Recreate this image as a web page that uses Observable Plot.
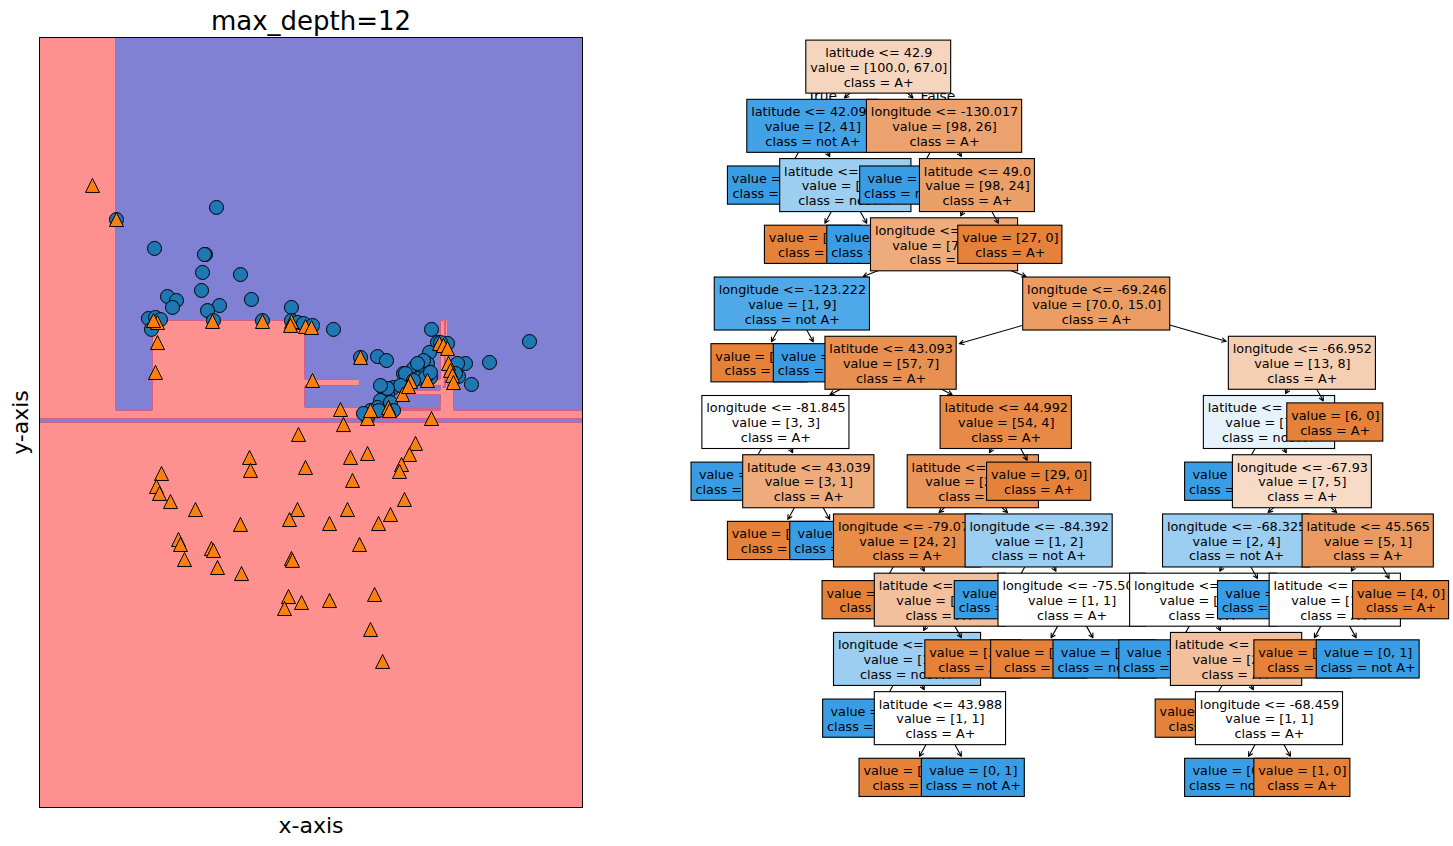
<!DOCTYPE html>
<html><head><meta charset="utf-8">
<script src="https://cdn.jsdelivr.net/npm/d3@7"></script>
<script src="https://cdn.jsdelivr.net/npm/@observablehq/plot@0.6"></script>
<style>
html,body{margin:0;padding:0;background:#fff;}
#fig{position:relative;width:1453px;height:846px;overflow:hidden;background:#fff;}
#left{position:absolute;left:0;top:0;}
#right{position:absolute;left:600px;top:0;}
</style></head>
<body><div id="fig"><div id="left"></div><div id="right"></div></div>
<script>
// ---------------- data ----------------
const title = "max_depth=12";
const xLabel = "x-axis", yLabel = "y-axis";
const classNames = ["A+", "not A+"];
const xDomain = [-144.29, -42.74];   // longitude extent of the decision plot
const yDomain = [16, 68.2];          // latitude extent

// class A+ (circles): [longitude, latitude]
const circlePoints = [[-129.90,55.86],[-111.19,56.68],[-122.78,53.90],[-113.25,53.49],[-113.44,53.49],[-113.80,52.27],[-106.70,52.13],[-113.99,51.05],[-120.35,50.64],[-118.67,50.37],[-119.42,49.90],[-104.65,50.44],[-110.63,50.03],[-112.87,49.69],[-97.17,49.90],[-123.91,49.15],[-122.60,49.22],[-121.66,49.08],[-123.35,48.41],[-111.75,49.01],[-102.59,49.01],[-97.17,49.01],[-94.54,48.68],[-93.42,48.61],[-96.04,48.88],[-89.31,48.41],[-70.98,48.41],[-52.65,47.59],[-69.86,47.52],[-67.99,47.46],[-71.35,46.85],[-72.10,46.17],[-84.25,46.51],[-81.07,46.57],[-79.39,46.30],[-60.13,46.17],[-64.62,46.10],[-66.49,45.96],[-66.11,46.10],[-65.93,45.22],[-63.50,44.68],[-76.22,45.42],[-74.35,45.76],[-72.66,45.63],[-71.73,46.10],[-73.59,45.08],[-71.17,45.15],[-78.08,44.47],[-79.95,44.41],[-79.21,44.07],[-80.52,43.59],[-81.07,43.12],[-82.38,42.91],[-82.94,42.44],[-72.47,46.30],[-73.59,46.10],[-66.49,45.42],[-75.84,45.42],[-72.10,45.15],[-74.35,44.95],[-76.77,44.61],[-79.21,44.41],[-80.52,44.61],[-78.65,43.46],[-78.08,42.91],[-83.70,42.71],[-80.88,42.91],[-94.92,48.81],[-93.23,48.68],[-71.17,45.49],[-69.29,47.52]];

// class not A+ (triangles): [longitude, latitude]
const trianglePoints = [[-134.38,58.17],[-129.90,55.86],[-122.22,48.88],[-122.97,49.01],[-111.94,48.95],[-102.59,48.95],[-97.17,48.95],[-97.34,48.68],[-94.54,48.61],[-93.42,48.54],[-122.22,47.52],[-122.60,45.49],[-93.23,44.95],[-84.25,46.51],[-69.48,47.46],[-68.74,47.32],[-67.99,47.12],[-67.80,46.10],[-67.42,45.63],[-67.05,45.29],[-66.87,44.81],[-74.90,44.88],[-71.73,44.95],[-76.40,44.00],[-75.28,44.54],[-79.02,43.12],[-82.94,42.37],[-82.38,42.91],[-88.00,42.98],[-70.98,42.37],[-87.44,41.96],[-95.85,41.29],[-73.97,40.68],[-75.09,39.93],[-76.59,39.25],[-76.96,38.78],[-105.01,39.73],[-104.83,38.85],[-94.54,39.05],[-86.13,39.73],[-82.94,40.00],[-85.75,38.17],[-121.47,38.64],[-122.41,37.76],[-121.85,37.29],[-119.79,36.74],[-115.12,36.20],[-106.70,35.19],[-96.04,36.20],[-97.53,35.52],[-90.05,35.25],[-86.69,36.20],[-80.88,35.25],[-78.65,35.86],[-76.03,36.88],[-84.44,33.83],[-118.29,34.17],[-117.92,33.83],[-117.17,32.81],[-112.13,33.56],[-111.75,33.42],[-111.00,32.27],[-106.51,31.86],[-97.17,32.88],[-96.98,32.75],[-97.72,30.30],[-98.47,29.49],[-95.29,29.90],[-90.05,30.03],[-81.63,30.44],[-82.38,28.07],[-80.13,25.90],[-78.83,42.91]];

// decision tree, nodes in pre-order (left child before right child)
const nodeParent = [-1,0,1,1,3,3,0,6,6,8,9,10,10,9,13,14,15,15,17,17,14,20,21,22,22,24,25,25,27,27,24,21,31,31,33,33,20,13,37,38,38,40,41,42,42,44,44,46,46,41,40,50,51,51,50,37,8];
const nodeFeature = ["latitude","latitude",null,"latitude",null,null,"longitude",null,"latitude","longitude","longitude",null,null,"longitude","latitude","longitude",null,"latitude",null,null,"latitude","latitude","longitude",null,"latitude","longitude",null,"latitude",null,null,null,"longitude",null,"longitude",null,null,null,"longitude","latitude",null,"longitude","longitude","longitude",null,"latitude",null,"longitude",null,null,null,"latitude","latitude",null,null,null,null,null];
const nodeThreshold = ["42.9","42.096",null,"42.358",null,null,"-130.017",null,"49.0","-94.772","-123.222",null,null,"-69.246","43.093","-81.845",null,"43.039",null,null,"44.992","44.595","-79.073",null,"44.252","-78.176",null,"43.988",null,null,null,"-84.392",null,"-75.505",null,null,null,"-66.952","44.458",null,"-67.93","-68.325","-68.896",null,"44.551",null,"-68.459",null,null,null,"45.565","45.434",null,null,null,null,null];
const nodeValue = ["[100.0, 67.0]","[2, 41]","[0, 37]","[2, 4]","[2, 0]","[0, 4]","[98, 26]","[0, 2]","[98, 24]","[71, 24]","[1, 9]","[1, 0]","[0, 9]","[70.0, 15.0]","[57, 7]","[3, 3]","[0, 2]","[3, 1]","[3, 0]","[0, 1]","[54, 4]","[25, 4]","[24, 2]","[20, 0]","[4, 2]","[1, 2]","[0, 1]","[1, 1]","[1, 0]","[0, 1]","[3, 0]","[1, 2]","[0, 1]","[1, 1]","[1, 0]","[0, 1]","[29, 0]","[13, 8]","[7, 8]","[0, 3]","[7, 5]","[2, 4]","[2, 2]","[0, 1]","[2, 1]","[1, 0]","[1, 1]","[0, 1]","[1, 0]","[0, 2]","[5, 1]","[1, 1]","[1, 0]","[0, 1]","[4, 0]","[6, 0]","[27, 0]"];

// ---------------- tree model ----------------
const nodes = nodeParent.map((p, i) => ({
  id: i, parent: p, feature: nodeFeature[i], threshold: nodeThreshold[i],
  valueText: nodeValue[i], value: JSON.parse(nodeValue[i]), kids: []
}));
nodes.forEach(n => { if (n.parent >= 0) nodes[n.parent].kids.push(n); });
nodes.forEach(n => { n.cls = n.value[0] >= n.value[1] ? 0 : 1; });

function predict(lon, lat) {
  let n = nodes[0];
  while (n.kids.length) {
    const v = n.feature === "latitude" ? lat : lon;
    n = v <= +n.threshold ? n.kids[0] : n.kids[1];
  }
  return n.cls;
}

// ---------------- left: decision boundary ----------------
const triUp = {
  draw(ctx, size) {
    const a = Math.sqrt(size / Math.PI);
    ctx.moveTo(0, -a); ctx.lineTo(a, a); ctx.lineTo(-a, a); ctx.closePath();
  }
};
const ext = {x1: xDomain[0], x2: xDomain[1], y1: yDomain[0], y2: yDomain[1]};
const leftPlot = Plot.plot({
  width: 600, height: 846,
  marginLeft: 39, marginRight: 18, marginTop: 37, marginBottom: 39,
  x: {domain: xDomain, axis: null},
  y: {domain: yDomain, axis: null},
  color: {type: "ordinal", domain: [0, 1], range: ["#8080d5", "#ff9090"]},
  style: {fontFamily: "DejaVu Sans", color: "black", background: "white", overflow: "visible"},
  marks: [
    Plot.raster({fill: (x, y) => predict(x, y), ...ext, pixelSize: 1, imageRendering: "pixelated"}),
    Plot.contour({value: (x, y) => predict(x, y), ...ext, pixelSize: 1, thresholds: [0.5],
      fill: "none", stroke: "#d45f84", strokeWidth: 1}),
    Plot.dot(circlePoints, {x: d => d[0], y: d => d[1], r: 7, fill: "#1f77b4", stroke: "black", strokeWidth: 1}),
    Plot.dot(trianglePoints, {x: d => d[0], y: d => d[1], r: 7, symbol: triUp, fill: "#ff7f0e", stroke: "black", strokeWidth: 1}),
    Plot.frame({stroke: "black", strokeWidth: 1}),
    Plot.text([title], {text: d => d, frameAnchor: "top", lineAnchor: "bottom", dy: -8, fontSize: 26, fill: "black"}),
    Plot.text([xLabel], {text: d => d, frameAnchor: "bottom", lineAnchor: "middle", textAnchor: "middle", dy: 18, fontSize: 22, fill: "black"}),
    Plot.text([yLabel], {text: d => d, frameAnchor: "left", lineAnchor: "middle", textAnchor: "middle", dx: -19, rotate: -90, fontSize: 22, fill: "black"})
  ]
});
document.getElementById("left").append(leftPlot);

// ---------------- right: tree diagram ----------------
const FS = 12.8, PAD = 3.9, LINE = 14.8;
const cv = document.createElement("canvas").getContext("2d");
cv.font = `${FS}px "DejaVu Sans"`;

nodes.forEach(n => {
  const lines = [];
  if (n.kids.length) lines.push(`${n.feature} <= ${n.threshold}`);
  lines.push(`value = ${n.valueText}`);
  lines.push(`class = ${classNames[n.cls]}`);
  n.label = lines.join("\n");
  n.wPx = Math.max(...lines.map(l => cv.measureText(l).width)) + 2 * PAD;
  n.hPx = LINE * lines.length + 8.6;
  const s = n.value[0] + n.value[1];
  const p = n.value.map(v => v / s).sort((a, b) => b - a);
  const alpha = (p[0] - p[1]) / (1 - p[1]);
  const base = n.cls === 0 ? [229, 129, 57] : [57, 157, 229];
  n.color = `rgb(${base.map(c => Math.round(alpha * c + (1 - alpha) * 255)).join(",")})`;
});

const hier = d3.stratify().id(d => String(d.id)).parentId(d => d.parent < 0 ? null : String(d.parent))(nodes);
d3.tree().nodeSize([1, 1]).separation(() => 1)(hier);
hier.each(h => { h.data.lx = h.x; h.data.depth = h.depth; });

const RW = 853, RH = 846, mL = 109.6, mR = 19.5, mT = 37, mB = 39;
const minX = d3.min(nodes, n => n.lx), maxX = d3.max(nodes, n => n.lx);
const maxDepth = d3.max(nodes, n => n.depth);
const kx = (RW - mL - mR) / (maxX - minX + 1);
const ky = (RH - mT - mB) / (maxDepth + 1);
nodes.forEach(n => {
  n.x1 = n.lx - n.wPx / 2 / kx; n.x2 = n.lx + n.wPx / 2 / kx;
  n.y1 = n.depth - n.hPx / 2 / ky; n.y2 = n.depth + n.hPx / 2 / ky;
  if (n.parent >= 0) {
    const pn = nodes[n.parent];
    const dx = (n.lx - pn.lx) * kx, dy = (n.depth - pn.depth) * ky;
    const len = Math.hypot(dx, dy);
    const t = Math.min(dx === 0 ? Infinity : (n.wPx / 2) / Math.abs(dx), (n.hPx / 2) / Math.abs(dy));
    n.inset = t * len + 2.8;
  }
});

const rightMarks = [];
// True / False edge labels (behind everything)
const root = nodes[0];
rightMarks.push(Plot.text(["True"], {text: d => d, x: (root.lx + root.kids[0].lx) / 2, y: 0.5,
  textAnchor: "end", dx: -8.8, fontSize: 13.9, fill: "black"}));
rightMarks.push(Plot.text(["False"], {text: d => d, x: (root.lx + root.kids[1].lx) / 2, y: 0.5,
  textAnchor: "start", dx: 8.8, fontSize: 13.9, fill: "black"}));
// deeper nodes drawn first (lower z-order), pre-order within a level
for (let d = maxDepth; d >= 0; d--) {
  nodes.filter(n => n.depth === d).forEach(n => {
    if (n.parent >= 0) {
      const pn = nodes[n.parent];
      rightMarks.push(Plot.arrow([n], {x1: () => pn.lx, y1: () => pn.depth, x2: "lx", y2: "depth",
        insetEnd: n.inset, headLength: 6.5, headAngle: 55, stroke: "black", strokeWidth: 1.1}));
    }
    rightMarks.push(Plot.rect([n], {x1: "x1", x2: "x2", y1: "y1", y2: "y2", fill: n.color, stroke: "black", strokeWidth: 1.1}));
    rightMarks.push(Plot.text([n], {x: "lx", y: "depth", text: "label", fontSize: FS, lineHeight: LINE / FS, fill: "black"}));
  });
}

const rightPlot = Plot.plot({
  width: RW, height: RH, marginLeft: mL, marginRight: mR, marginTop: mT, marginBottom: mB,
  x: {domain: [minX - 0.5, maxX + 0.5], axis: null},
  y: {domain: [maxDepth + 0.5, -0.5], axis: null},
  style: {fontFamily: "DejaVu Sans", color: "black", background: "transparent", overflow: "visible"},
  marks: rightMarks
});
document.getElementById("right").append(rightPlot);
</script>
</body></html>
